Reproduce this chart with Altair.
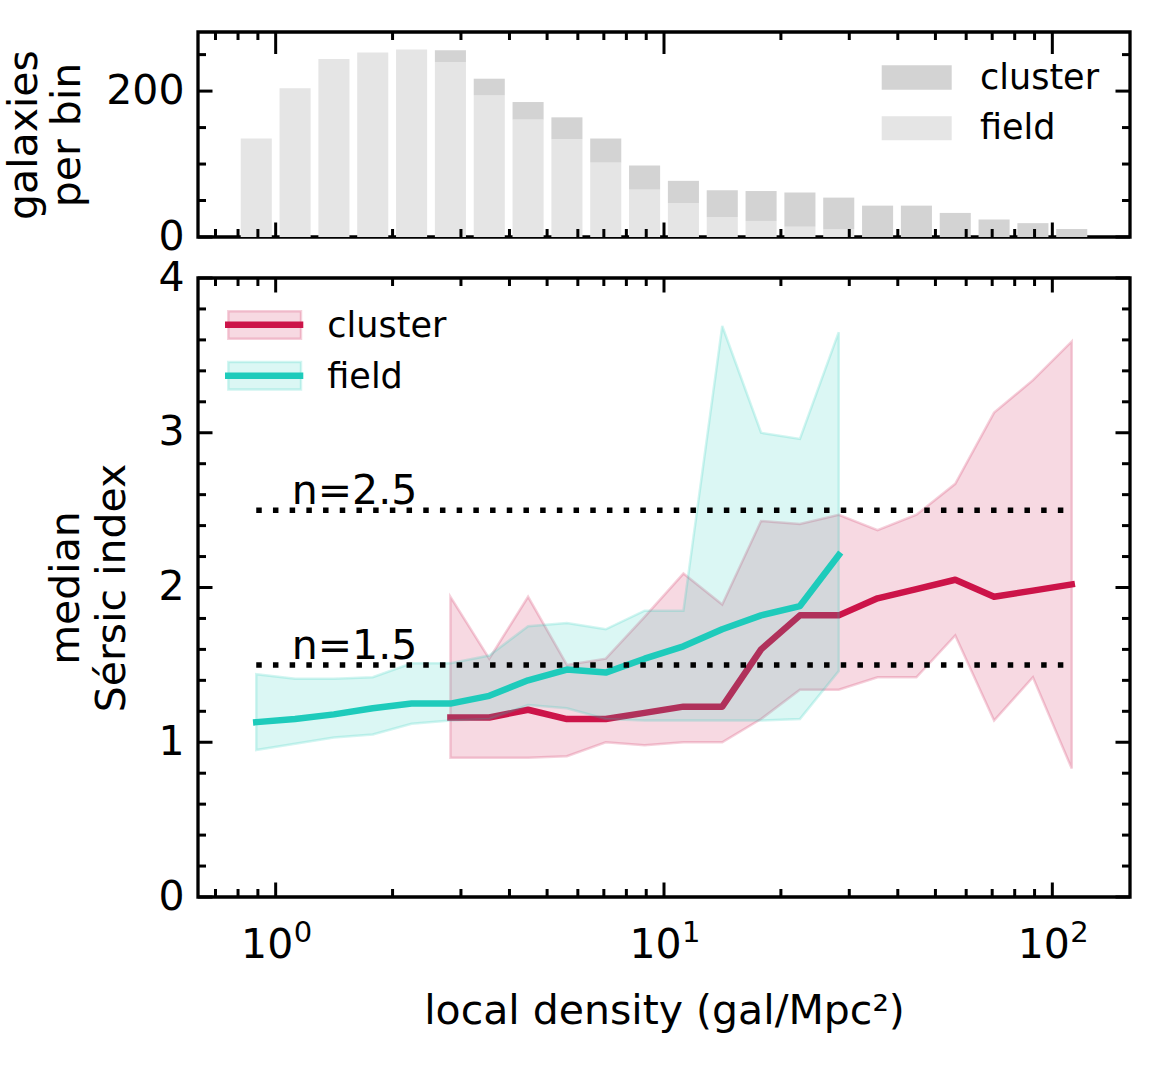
import altair as alt
import pandas as pd

# ---------------- data ----------------
# histogram bins (log10 of bin centres, 0.1 dex wide)
bin_log_centers = [-0.05, 0.05, 0.15, 0.25, 0.35, 0.45, 0.55, 0.65, 0.75, 0.85, 0.95,
                   1.05, 1.15, 1.25, 1.35, 1.45, 1.55, 1.65, 1.75, 1.85, 1.95, 2.05]
field_counts = [135, 204, 244, 253, 257, 240, 194, 161, 134, 102, 65,
                46, 27, 22, 14, 11, 0, 0, 0, 0, 0, 0]
cluster_counts = [0, 0, 0, 0, 0, 16, 23, 24, 30, 33, 33,
                  31, 37, 41, 47, 43, 43, 43, 33, 24, 19, 11]

# median Sersic index per bin (field: bins 0-15, cluster: bins 5-21)
field_bins = list(range(0, 16))
field_median = [1.13, 1.15, 1.18, 1.22, 1.25, 1.25, 1.30, 1.40, 1.47, 1.45, 1.54,
                1.62, 1.73, 1.82, 1.88, 2.21]
field_lo = [0.95, 0.99, 1.03, 1.05, 1.12, 1.14, 1.15, 1.24, 1.22, 1.15, 1.14,
            1.14, 1.14, 1.14, 1.15, 1.46]
field_hi = [1.44, 1.41, 1.41, 1.42, 1.51, 1.51, 1.56, 1.75, 1.77, 1.73, 1.85,
            1.85, 3.69, 3.00, 2.96, 3.65]

cluster_bins = list(range(5, 22))
cluster_median = [1.16, 1.16, 1.21, 1.15, 1.15, 1.19, 1.23, 1.23, 1.60, 1.82, 1.82,
                  1.93, 1.99, 2.05, 1.94, 1.98, 2.02]
cluster_lo = [0.90, 0.90, 0.90, 0.91, 1.00, 0.98, 1.00, 1.00, 1.15, 1.34, 1.34,
              1.42, 1.42, 1.69, 1.14, 1.42, 0.83]
cluster_hi = [1.94, 1.54, 1.94, 1.50, 1.54, 1.81, 2.09, 1.89, 2.43, 2.41, 2.47,
              2.37, 2.47, 2.67, 3.13, 3.34, 3.59]

ref_levels = [2.5, 1.5]
ref_labels = ["n=2.5", "n=1.5"]
ref_label_x = 1.1

series_names = ["cluster", "field"]

x_major_ticks = [1, 10, 100]
x_major_exponents = ["0", "1", "2"]
x_minor_ticks = [0.7, 0.8, 0.9, 2, 3, 4, 5, 6, 7, 8, 9, 20, 30, 40, 50, 60, 70, 80, 90]
top_y_major = [0, 200]
top_y_minor = [50, 100, 150, 250]
bot_y_major = [0, 1, 2, 3, 4]
bot_y_minor = [0.2, 0.4, 0.6, 0.8, 1.2, 1.4, 1.6, 1.8, 2.2, 2.4, 2.6, 2.8,
               3.2, 3.4, 3.6, 3.8]

# ---------------- style ----------------
CLUSTER = "#cc1449"
FIELD = "#1ecbbb"
HIST_CLUSTER = "#d3d3d3"
HIST_FIELD = "#e5e5e5"
FONT = "DejaVu Sans"
FS = 41
SUP_FS = 29
LEG_FS = 35
W = 932
H_TOP = 205
H_BOT = 619
MAJ = 14.5
MIN = 8
TW = 3

XDOM = [10 ** -0.2, 10 ** 2.2]
xscale = alt.Scale(type="log", domain=XDOM, nice=False)
ytop = alt.Scale(domain=[0, 281], nice=False, zero=False)
ybot = alt.Scale(domain=[0, 4], nice=False, zero=False)

centers = [10 ** c for c in bin_log_centers]

# ---------------- tables ----------------
hist = pd.DataFrame({
    "lo": [10 ** (c - 0.04) for c in bin_log_centers],
    "hi": [10 ** (c + 0.04) for c in bin_log_centers],
    "field": field_counts,
    "cluster": cluster_counts,
})
hist["total"] = hist["field"] + hist["cluster"]
hist["base"] = 0

fdf = pd.DataFrame({
    "x": [centers[i] for i in field_bins],
    "med": field_median, "lo": field_lo, "hi": field_hi,
})
cdf = pd.DataFrame({
    "x": [centers[i] for i in cluster_bins],
    "med": cluster_median, "lo": cluster_lo, "hi": cluster_hi,
})
refdf = pd.DataFrame({
    "level": ref_levels, "label": ref_labels,
    "x0": centers[0], "x1": centers[-1], "lx": ref_label_x,
})
expdf = pd.DataFrame({"t": x_major_ticks, "e": x_major_exponents})

# ---------------- axes (same object in every layer of a panel) ----------------
top_xaxis = None
top_yaxis = alt.Axis(values=top_y_major, ticks=False, domain=False, grid=False,
                     labelFontSize=FS, labelPadding=14, labelColor="black",
                     title=["galaxies", "per bin"], titleFontSize=FS,
                     titleFontWeight="normal", titlePadding=17, titleLineHeight=43,
                     titleColor="black")
bot_xaxis = alt.Axis(values=x_major_ticks, ticks=False, domain=False, grid=False,
                     labelExpr="'10'", labelOffset=-9,
                     labelFontSize=FS, labelPadding=28, labelColor="black",
                     title="local density (gal/Mpc²)", titleFontSize=FS,
                     titleFontWeight="normal", titlePadding=26, titleColor="black")
bot_yaxis = alt.Axis(values=bot_y_major, ticks=False, domain=False, grid=False, format="d",
                     labelFontSize=FS, labelPadding=14, labelColor="black",
                     title=["median", "Sérsic index"], titleFontSize=FS,
                     titleFontWeight="normal", titlePadding=24, titleLineHeight=46,
                     titleColor="black")


def tick_layers(xax, ys, yax, yvals_major, yvals_minor, H, top_major):
    layers = []
    for vals, ln_b, ln_t in ((x_major_ticks, MAJ, top_major), (x_minor_ticks, MIN, MIN)):
        d = pd.DataFrame({"t": vals})
        for y0, y1 in ((H, H - ln_b), (0, ln_t)):
            layers.append(alt.Chart(d).mark_rule(color="black", strokeWidth=TW).encode(
                x=alt.X("t:Q", scale=xscale, axis=xax),
                y=alt.value(y0), y2=alt.value(y1)))
    for vals, ln in ((yvals_major, MAJ), (yvals_minor, MIN)):
        d = pd.DataFrame({"t": vals})
        for x0, x1 in ((0, ln), (W - ln, W)):
            layers.append(alt.Chart(d).mark_rule(color="black", strokeWidth=TW).encode(
                y=alt.Y("t:Q", scale=ys, axis=yax),
                x=alt.value(x0), x2=alt.value(x1)))
    return layers


def one(label):
    return alt.InlineData(values=[{"label": label}])


# ---------------- top panel ----------------
field_bars = alt.Chart(hist[hist["field"] > 0]).mark_rect(color=HIST_FIELD).encode(
    x=alt.X("lo:Q", scale=xscale, axis=top_xaxis), x2="hi:Q",
    y=alt.Y("field:Q", scale=ytop, axis=top_yaxis), y2="base:Q")
cluster_bars = alt.Chart(hist[hist["cluster"] > 0]).mark_rect(color=HIST_CLUSTER).encode(
    x=alt.X("lo:Q", scale=xscale, axis=top_xaxis), x2="hi:Q",
    y=alt.Y("total:Q", scale=ytop, axis=top_yaxis), y2="field:Q")

top_leg = []
for name, col, (r0, r1), base in ((series_names[0], HIST_CLUSTER, (33.3, 57.7), 56.7),
                                  (series_names[1], HIST_FIELD, (84.3, 108.3), 106.7)):
    top_leg.append(alt.Chart(one(name)).mark_rect(color=col).encode(
        x=alt.value(683.7), x2=alt.value(753.7), y=alt.value(r0), y2=alt.value(r1)))
    top_leg.append(alt.Chart(one(name)).mark_text(
        align="left", baseline="alphabetic", font=FONT, fontSize=LEG_FS, color="black").encode(
        x=alt.value(782), y=alt.value(base), text="label:N"))

top = alt.layer(field_bars, cluster_bars, *top_leg,
                *tick_layers(top_xaxis, ytop, top_yaxis, top_y_major, top_y_minor, H_TOP, 22)
                ).properties(width=W, height=H_TOP)

# ---------------- bottom panel ----------------


def band(df, col):
    return alt.Chart(df).mark_area(fill=col, fillOpacity=0.16, stroke=col,
                                   strokeOpacity=0.2, strokeWidth=2.5).encode(
        x=alt.X("x:Q", scale=xscale, axis=bot_xaxis),
        y=alt.Y("lo:Q", scale=ybot, axis=bot_yaxis), y2="hi:Q")


def line(df, col):
    return alt.Chart(df).mark_line(color=col, strokeWidth=6.5, strokeCap="square",
                                   strokeJoin="round").encode(
        x=alt.X("x:Q", scale=xscale, axis=bot_xaxis),
        y=alt.Y("med:Q", scale=ybot, axis=bot_yaxis))


ref_rules = alt.Chart(refdf).mark_rule(color="black", strokeWidth=5.5,
                                       strokeDash=[5.5, 11.2]).encode(
    x=alt.X("x0:Q", scale=xscale, axis=bot_xaxis), x2="x1:Q",
    y=alt.Y("level:Q", scale=ybot, axis=bot_yaxis))
ref_text = alt.Chart(refdf).mark_text(align="left", baseline="alphabetic", dy=-6,
                                      font=FONT, fontSize=FS, color="black").encode(
    x=alt.X("lx:Q", scale=xscale, axis=bot_xaxis),
    y=alt.Y("level:Q", scale=ybot, axis=bot_yaxis), text="label:N")

# superscript exponents of the x tick labels (10^0, 10^1, 10^2)
exp_text = alt.Chart(expdf).mark_text(align="left", baseline="alphabetic", dx=18,
                                      font=FONT, fontSize=SUP_FS, color="black").encode(
    x=alt.X("t:Q", scale=xscale, axis=bot_xaxis),
    y=alt.value(H_BOT + 45), text="e:N")

bot_leg = []
for name, col, ly, (r0, r1), base in ((series_names[0], CLUSTER, 46.7, (33.3, 60.7), 59),
                                      (series_names[1], FIELD, 97.7, (84, 111.5), 110)):
    bot_leg.append(alt.Chart(one(name)).mark_rect(fill=col, fillOpacity=0.16, stroke=col,
                                                  strokeOpacity=0.2, strokeWidth=2.5).encode(
        x=alt.value(30.3), x2=alt.value(103), y=alt.value(r0), y2=alt.value(r1)))
    bot_leg.append(alt.Chart(one(name)).mark_rule(color=col, strokeWidth=6.5).encode(
        x=alt.value(27), x2=alt.value(105.3), y=alt.value(ly)))
    bot_leg.append(alt.Chart(one(name)).mark_text(
        align="left", baseline="alphabetic", font=FONT, fontSize=LEG_FS, color="black").encode(
        x=alt.value(129.3), y=alt.value(base), text="label:N"))

bottom = alt.layer(band(cdf, CLUSTER), line(cdf, CLUSTER), band(fdf, FIELD), line(fdf, FIELD),
                   ref_rules, ref_text, exp_text, *bot_leg,
                   *tick_layers(bot_xaxis, ybot, bot_yaxis, bot_y_major, bot_y_minor, H_BOT, MAJ)
                   ).properties(width=W, height=H_BOT)

chart = alt.vconcat(top, bottom, spacing=41, bounds="flush").resolve_scale(
    x="independent", y="independent").properties(
    padding={"left": 2, "top": 28, "right": 5, "bottom": 5},
    background="white",
).configure(font=FONT).configure_view(stroke="black", strokeWidth=3.3)

chart.save("out.html", embed_options={"renderer": "svg", "actions": False})
